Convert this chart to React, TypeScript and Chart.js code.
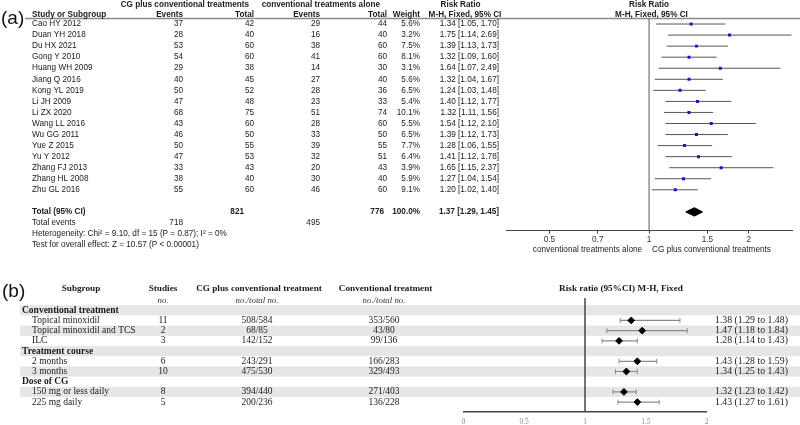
import React, { useEffect, useRef } from "react";
import { Chart, registerables } from "chart.js";
Chart.register(...registerables);

// ---------- Panel (a) data ----------
const studyNames = [
  "Cao HY 2012", "Duan YH 2018", "Du HX 2021", "Gong Y 2010", "Huang WH 2009", "Jiang Q 2016",
  "Kong YL 2019", "Li JH 2009", "Li ZX 2020", "Wang LL 2016", "Wu GG 2011", "Yue Z 2015",
  "Yu Y 2012", "Zhang FJ 2013", "Zhang HL 2008", "Zhu GL 2016",
];
const cgEvents = [37, 28, 53, 54, 29, 40, 50, 47, 68, 43, 46, 50, 47, 33, 38, 55];
const cgTotal = [42, 40, 60, 60, 38, 45, 52, 48, 75, 60, 50, 55, 53, 43, 40, 60];
const convEvents = [29, 16, 38, 41, 14, 27, 28, 23, 51, 28, 33, 39, 32, 20, 30, 46];
const convTotal = [44, 40, 60, 60, 30, 40, 36, 33, 74, 60, 50, 55, 51, 43, 40, 60];
const weights = [5.6, 3.2, 7.5, 8.1, 3.1, 5.6, 6.5, 5.4, 10.1, 5.5, 6.5, 7.7, 6.4, 3.9, 5.9, 9.1];
const rrA = [1.34, 1.75, 1.39, 1.32, 1.64, 1.32, 1.24, 1.40, 1.32, 1.54, 1.39, 1.28, 1.41, 1.65, 1.27, 1.20];
const loA = [1.05, 1.14, 1.13, 1.09, 1.07, 1.04, 1.03, 1.12, 1.11, 1.12, 1.12, 1.06, 1.12, 1.15, 1.04, 1.02];
const hiA = [1.70, 2.69, 1.73, 1.60, 2.49, 1.67, 1.48, 1.77, 1.56, 2.10, 1.73, 1.55, 1.78, 2.37, 1.54, 1.40];
const totalCg = 821;
const totalConv = 776;
const totalEventsCg = 718;
const totalEventsConv = 495;
const totalWeight = "100.0%";
const totalRR = 1.37;
const totalLo = 1.29;
const totalHi = 1.45;
const heterogeneityText = "Heterogeneity: Chi\u00b2 = 9.10, df = 15 (P = 0.87); I\u00b2 = 0%";
const overallText = "Test for overall effect: Z = 10.57 (P < 0.00001)";
const xTicksA = [0.5, 0.7, 1, 1.5, 2];

// ---------- Panel (b) data ----------
const bRows = [
  "Conventional treatment", "Topical minoxidil", "Topical minoxidil and TCS", "ILC",
  "Treatment course", "2 months", "3 months", "Dose of CG", "150 mg or less daily", "225 mg daily",
];
const bIsGroup = [true, false, false, false, true, false, false, true, false, false];
const bStudies = ["", "11", "2", "3", "", "6", "10", "", "8", "5"];
const bCg = ["", "508/584", "68/85", "142/152", "", "243/291", "475/530", "", "394/440", "200/236"];
const bConv = ["", "353/560", "43/80", "99/136", "", "166/283", "329/493", "", "271/403", "136/228"];
const bRR = [null, 1.38, 1.47, 1.28, null, 1.43, 1.34, null, 1.32, 1.43];
const bLo = [null, 1.29, 1.18, 1.14, null, 1.28, 1.25, null, 1.23, 1.27];
const bHi = [null, 1.78, 1.84, 1.43, null, 1.59, 1.43, null, 1.42, 1.61];
const bLabels = [
  "", "1.38 (1.29 to 1.48)", "1.47 (1.18 to 1.84)", "1.28 (1.14 to 1.43)", "",
  "1.43 (1.28 to 1.59)", "1.34 (1.25 to 1.43)", "", "1.32 (1.23 to 1.42)", "1.43 (1.27 to 1.61)",
];

const SANS = "'Liberation Sans', Arial, sans-serif";
const SERIF = "'Liberation Serif', 'Times New Roman', serif";

function txt(ctx: CanvasRenderingContext2D, s: string, x: number, y: number, align: CanvasTextAlign, font: string, color = "#1a1a1a") {
  ctx.save();
  ctx.font = font;
  ctx.textAlign = align;
  ctx.textBaseline = "middle";
  ctx.fillStyle = color;
  ctx.fillText(s, x, y);
  ctx.restore();
}

function hline(ctx: CanvasRenderingContext2D, x1: number, x2: number, y: number, color: string, w: number) {
  ctx.save();
  ctx.strokeStyle = color;
  ctx.lineWidth = w;
  ctx.beginPath();
  ctx.moveTo(x1, y);
  ctx.lineTo(x2, y);
  ctx.stroke();
  ctx.restore();
}

function vline(ctx: CanvasRenderingContext2D, x: number, y1: number, y2: number, color: string, w: number) {
  ctx.save();
  ctx.strokeStyle = color;
  ctx.lineWidth = w;
  ctx.beginPath();
  ctx.moveTo(x, y1);
  ctx.lineTo(x, y2);
  ctx.stroke();
  ctx.restore();
}

const f = (s: number, w = "normal") => `${w} ${s}px ${SANS}`;
const fs = (s: number, w = "normal", st = "normal") => `${st} ${w} ${s}px ${SERIF}`;

const panelAPlugin = {
  id: "panelA",
  beforeDatasetsDraw(chart: any) {
    const { ctx, chartArea, scales } = chart;
    hline(ctx, 25, 800, chartArea.top, "#8a8a8a", 1.5);
    vline(ctx, scales.x.getPixelForValue(1), chartArea.top, chartArea.bottom, "#555", 1);
  },
  afterDraw(chart: any) {
    const { ctx, scales } = chart;
    const ys = scales.y;
    const xs = scales.x;
    const S = 8.2;
    txt(ctx, "(a)", 1, 19, "left", `19px ${SANS}`, "#111");
    // header row 1
    txt(ctx, "CG plus conventional treatments", 120.7, 4.5, "left", f(S, "bold"));
    txt(ctx, "conventional treatments alone", 261.7, 4.5, "left", f(S, "bold"));
    txt(ctx, "Risk Ratio", 460.5, 4.5, "center", f(S, "bold"));
    txt(ctx, "Risk Ratio", 649, 4.5, "center", f(S, "bold"));
    // header row 2
    txt(ctx, "Study or Subgroup", 32, 14.5, "left", f(S, "bold"));
    txt(ctx, "Events", 183, 14.5, "right", f(S, "bold"));
    txt(ctx, "Total", 254, 14.5, "right", f(S, "bold"));
    txt(ctx, "Events", 320, 14.5, "right", f(S, "bold"));
    txt(ctx, "Total", 387, 14.5, "right", f(S, "bold"));
    txt(ctx, "Weight", 420, 14.5, "right", f(S, "bold"));
    txt(ctx, "M-H, Fixed, 95% CI", 465, 14.5, "center", f(S, "bold"));
    txt(ctx, "M-H, Fixed, 95% CI", 651.5, 14.5, "center", f(S, "bold"));
    studyNames.forEach((n, i) => {
      const y = ys.getPixelForValue(i);
      txt(ctx, n, 32, y, "left", f(S));
      txt(ctx, String(cgEvents[i]), 183, y, "right", f(S));
      txt(ctx, String(cgTotal[i]), 254, y, "right", f(S));
      txt(ctx, String(convEvents[i]), 320, y, "right", f(S));
      txt(ctx, String(convTotal[i]), 387, y, "right", f(S));
      txt(ctx, weights[i].toFixed(1) + "%", 420, y, "right", f(S));
      txt(ctx, `${rrA[i].toFixed(2)} [${loA[i].toFixed(2)}, ${hiA[i].toFixed(2)}]`, 499, y, "right", f(S));
    });
    const tr = studyNames.length + 1;
    const yT = ys.getPixelForValue(tr);
    txt(ctx, "Total (95% CI)", 32, yT, "left", f(S, "bold"));
    txt(ctx, String(totalCg), 244, yT, "right", f(S, "bold"));
    txt(ctx, String(totalConv), 384, yT, "right", f(S, "bold"));
    txt(ctx, totalWeight, 420, yT, "right", f(S, "bold"));
    txt(ctx, `${totalRR.toFixed(2)} [${totalLo.toFixed(2)}, ${totalHi.toFixed(2)}]`, 499, yT, "right", f(S, "bold"));
    const yE = ys.getPixelForValue(tr + 1);
    txt(ctx, "Total events", 32, yE, "left", f(S));
    txt(ctx, String(totalEventsCg), 183, yE, "right", f(S));
    txt(ctx, String(totalEventsConv), 320, yE, "right", f(S));
    txt(ctx, heterogeneityText, 32, ys.getPixelForValue(tr + 2), "left", f(S));
    txt(ctx, overallText, 32, ys.getPixelForValue(tr + 3), "left", f(S));
    const x1 = xs.getPixelForValue(1);
    txt(ctx, "conventional treatments alone", x1 - 7, 249.3, "right", f(S), "#222");
    txt(ctx, "CG plus conventional treatments", x1 + 3, 249.3, "left", f(S), "#222");
  },
};

const panelBPlugin = {
  id: "panelB",
  beforeDatasetsDraw(chart: any) {
    const { ctx, chartArea, scales } = chart;
    const ys = scales.y;
    const step = Math.abs(ys.getPixelForValue(1) - ys.getPixelForValue(0));
    bRows.forEach((_, i) => {
      if (i % 2 === 0) {
        const y = ys.getPixelForValue(i);
        ctx.save();
        ctx.fillStyle = "#e6e6e6";
        ctx.fillRect(20, y - step / 2, 780, step);
        ctx.restore();
      }
    });
    vline(ctx, scales.x.getPixelForValue(1), chartArea.top, chartArea.bottom, "#444", 1.5);
  },
  afterDraw(chart: any) {
    const { ctx, scales } = chart;
    const ys = scales.y;
    const S = 9.5;
    txt(ctx, "(b)", 2, 32, "left", `19px ${SANS}`, "#111");
    txt(ctx, "Subgroup", 81, 29, "center", fs(9.2, "bold"));
    txt(ctx, "Studies", 163, 29, "center", fs(9.2, "bold"));
    txt(ctx, "CG plus conventional treatment", 259, 29, "center", fs(9.2, "bold"));
    txt(ctx, "Conventional treatment", 385.6, 29, "center", fs(9.2, "bold"));
    txt(ctx, "Risk ratio (95%CI) M-H, Fixed", 621, 29, "center", fs(9.2, "bold"));
    txt(ctx, "no.", 163, 40.5, "center", fs(8.8, "normal", "italic"), "#333");
    txt(ctx, "no./total no.", 257, 40.5, "center", fs(8.8, "normal", "italic"), "#333");
    txt(ctx, "no./total no.", 384, 40.5, "center", fs(8.8, "normal", "italic"), "#333");
    bRows.forEach((n, i) => {
      const y = ys.getPixelForValue(i);
      if (bIsGroup[i]) {
        txt(ctx, n, 22, y, "left", fs(S, "bold"));
      } else {
        txt(ctx, n, 32, y, "left", fs(S));
        txt(ctx, bStudies[i], 163, y, "center", fs(S));
        txt(ctx, bCg[i], 257, y, "center", fs(S));
        txt(ctx, bConv[i], 384, y, "center", fs(S));
        txt(ctx, bLabels[i], 715, y, "left", fs(9.8));
      }
    });
  },
};

export default function App() {
  const refA = useRef<HTMLCanvasElement>(null);
  const refB = useRef<HTMLCanvasElement>(null);

  useEffect(() => {
    const ciDatasetsA = studyNames.map((_, i) => ({
      type: "line" as const,
      data: [{ x: loA[i], y: i }, { x: hiA[i], y: i }],
      borderColor: "#555",
      borderWidth: 1,
      pointRadius: 0,
      fill: false,
      order: 2,
    }));
    const tr = studyNames.length + 1;
    const chartA = new Chart(refA.current!, {
      type: "scatter",
      data: {
        datasets: [
          ...ciDatasetsA,
          {
            type: "scatter",
            data: rrA.map((v, i) => ({ x: v, y: i })),
            pointStyle: "rect",
            pointRadius: 2.1,
            backgroundColor: "#1414c8",
            borderColor: "#1414c8",
            borderWidth: 0,
            order: 0,
          },
          {
            type: "line",
            data: [
              { x: totalLo, y: tr },
              { x: totalRR, y: tr - 0.38 },
              { x: totalHi, y: tr },
              { x: totalRR, y: tr + 0.38 },
              { x: totalLo, y: tr },
            ],
            borderColor: "#000",
            borderWidth: 1,
            backgroundColor: "#000",
            pointRadius: 0,
            fill: "shape",
            order: 1,
          },
        ] as any,
      },
      options: {
        responsive: false,
        animation: false,
        events: [],
        layout: { padding: { left: 506, right: 8, top: 18.5, bottom: 0 } },
        plugins: { legend: { display: false }, tooltip: { enabled: false } },
        scales: {
          x: {
            type: "logarithmic",
            min: 0.37,
            max: 2.7,
            afterBuildTicks: (s: any) => {
              s.ticks = xTicksA.map((v) => ({ value: v }));
            },
            afterFit: (s: any) => {
              s.height = 29.3;
            },
            grid: { display: true, drawOnChartArea: false, drawTicks: true, tickLength: 3, color: "#444" },
            border: { display: true, color: "#444", width: 1 },
            ticks: {
              callback: (v: any) => String(v),
              font: { family: SANS, size: 8.2 },
              color: "#333",
              padding: 1,
              maxRotation: 0,
              autoSkip: false,
            },
          },
          y: { type: "linear", reverse: true, min: -0.5, max: 18.7, display: false },
        },
      },
      plugins: [panelAPlugin],
    } as any);

    const ciDatasetsB = bRows
      .map((_, i) => i)
      .filter((i) => bRR[i] !== null)
      .map((i) => ({
        type: "line" as const,
        data: [{ x: bLo[i] as number, y: i }, { x: bHi[i] as number, y: i }],
        borderColor: "#8a8a8a",
        borderWidth: 1.2,
        pointStyle: "line",
        pointRotation: 90,
        pointRadius: 2.5,
        pointBorderColor: "#8a8a8a",
        pointBorderWidth: 1,
        fill: false,
        order: 2,
      }));
    const chartB = new Chart(refB.current!, {
      type: "scatter",
      data: {
        datasets: [
          ...ciDatasetsB,
          {
            type: "scatter",
            data: bRows
              .map((_, i) => i)
              .filter((i) => bRR[i] !== null)
              .map((i) => ({ x: bRR[i] as number, y: i })),
            pointStyle: "rectRot",
            pointRadius: 3.4,
            backgroundColor: "#000",
            borderColor: "#000",
            borderWidth: 1,
            order: 0,
          },
        ] as any,
      },
      options: {
        responsive: false,
        animation: false,
        events: [],
        layout: { padding: { left: 463.3, right: 93.3, top: 38, bottom: 0 } },
        plugins: { legend: { display: false }, tooltip: { enabled: false } },
        scales: {
          x: {
            type: "linear",
            min: 0,
            max: 2,
            afterFit: (s: any) => {
              s.height = 13.3;
            },
            grid: { display: true, drawOnChartArea: false, drawTicks: false },
            border: { display: true, color: "#444", width: 1.5 },
            ticks: {
              stepSize: 0.5,
              callback: (v: any) => String(v),
              font: { family: SERIF, size: 7.5 },
              color: "#888",
              padding: 6,
              maxRotation: 0,
            },
          },
          y: { type: "linear", reverse: true, min: -1.2, max: 9.94, display: false },
        },
      },
      plugins: [panelBPlugin],
    } as any);

    return () => {
      chartA.destroy();
      chartB.destroy();
    };
  }, []);

  return (
    <div style={{ position: "absolute", left: 0, top: 0, width: 800, height: 425, background: "#fff", overflow: "hidden" }}>
      <canvas ref={refA} width={800} height={260} style={{ position: "absolute", left: 0, top: 0 }} />
      <canvas ref={refB} width={800} height={165} style={{ position: "absolute", left: 0, top: 260 }} />
    </div>
  );
}
